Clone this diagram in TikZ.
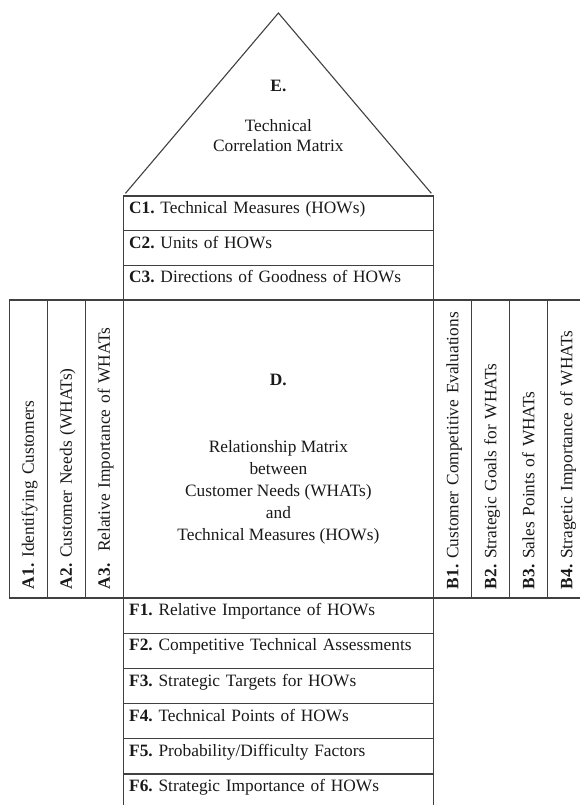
\documentclass[tikz,border=0pt]{standalone}
\usepackage{fontspec}
\setmainfont{Liberation Serif}
\frenchspacing

\begin{document}
\begin{tikzpicture}[x=1bp,y=-1bp,font=\fontsize{17.4}{22}\selectfont,text=black!90]
        \tikzset{box/.style = {shape=rectangle,draw=black!75,line width=1.2bp,outer sep=0pt,inner sep=0pt}}
        \tikzset{row/.style = {box,anchor=north west,minimum width=310.4bp,minimum height=34.7bp,text width=298.4bp,align=left,inner xsep=6bp,text height=8bp,text depth=8bp}}
        \tikzset{frow/.style = {row,minimum height=35.2bp}}
        \tikzset{column/.style = {box,rotate=90,minimum width=298bp,minimum height=38bp,text width=280bp,align=left,inner xsep=9bp,text height=11.5bp,text depth=0pt}}
        \tikzset{roof/.style = {draw=black!75,line width=1.1bp,shorten <=3.5bp,shorten >=3.5bp}}

        \useasboundingbox (0,0) rectangle (580,805);
        \clip (0,0) rectangle (580,805);

        \coordinate (apex) at (278.4,13);

        \node[row] (c1) at (123.2,196) {\textbf{C1.} Technical Measures (HOWs)};
        \node[row] (c2) at (123.2,230.7) {\textbf{C2.} Units of HOWs};
        \node[row] (c3) at (123.2,265.3) {\textbf{C3.} Directions of Goodness of HOWs};

        \draw[roof] (c1.north west) -- (apex) -- (c1.north east);
        \node[font=\fontsize{17.4}{22}\selectfont\bfseries] (etitle) at (278.4,86) {E.};
        \node[align=center,font=\fontsize{17.4}{20}\selectfont] (etext) at (278.4,136) {Technical\\Correlation Matrix};

        \node[box,anchor=north west,minimum width=310.4bp,minimum height=298bp] (d) at (123.2,300) {};
        \node[font=\fontsize{17.4}{22}\selectfont\bfseries] (dtitle) at (278.4,380) {D.};
        \node[align=center] (dtext) at (278.4,492) {Relationship Matrix\\between\\Customer Needs (WHATs)\\and\\Technical Measures (HOWs)};

        \node[column] (a1) at (28.2,449) {\textbf{A1.} Identifying Customers};
        \node[column] (a2) at (66.2,449) {\textbf{A2.} Customer Needs (WHATs)};
        \node[column] (a3) at (104.2,449) {\textbf{A3.}\ \ Relative Importance of WHATs};

        \node[column] (b1) at (452.6,449) {\textbf{B1.} Customer Competitive Evaluations};
        \node[column] (b2) at (490.6,449) {\textbf{B2.} Strategic Goals for WHATs};
        \node[column] (b3) at (528.6,449) {\textbf{B3.} Sales Points of WHATs};
        \node[column] (b4) at (566.6,449) {\textbf{B4.} Stragetic Importance of WHATs};

        \node[frow] (f1) at (123.2,598) {\textbf{F1.} Relative Importance of HOWs};
        \node[frow] (f2) at (123.2,633.2) {\textbf{F2.} Competitive Technical Assessments};
        \node[frow] (f3) at (123.2,668.4) {\textbf{F3.} Strategic Targets for HOWs};
        \node[frow] (f4) at (123.2,703.6) {\textbf{F4.} Technical Points of HOWs};
        \node[frow] (f5) at (123.2,738.8) {\textbf{F5.} Probability/Difficulty Factors};
        \node[frow] (f6) at (123.2,774) {\textbf{F6.} Strategic Importance of HOWs};
      \end{tikzpicture}
\end{document}
